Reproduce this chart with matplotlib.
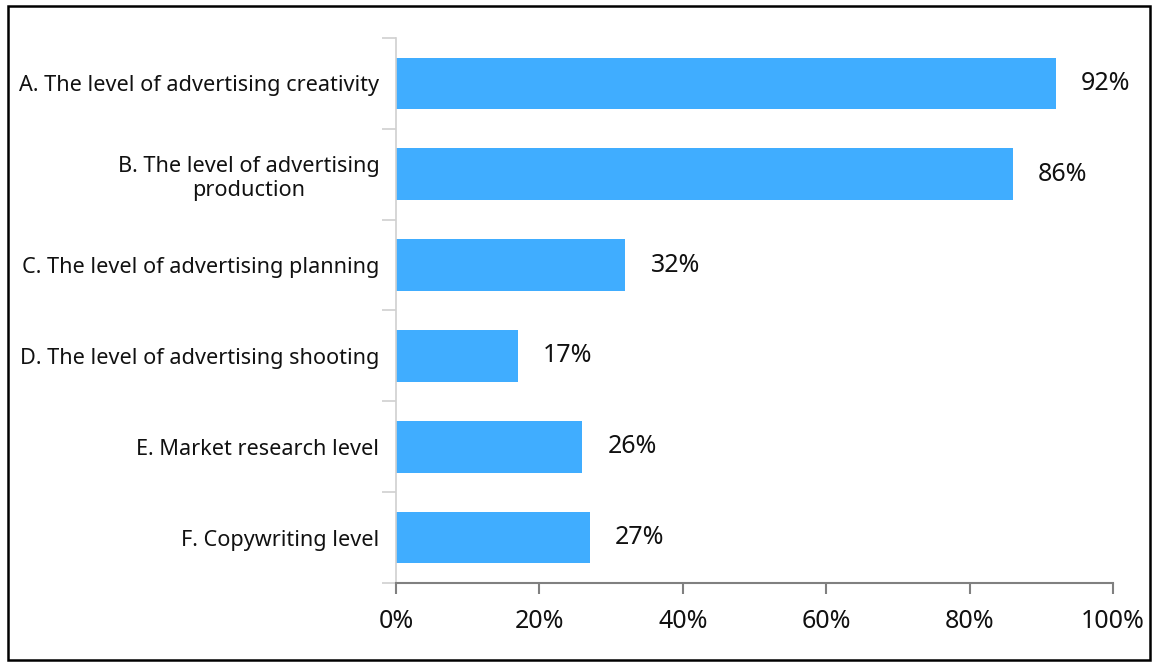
import matplotlib.pyplot as plt
from matplotlib.patches import Rectangle
from matplotlib.ticker import MultipleLocator, PercentFormatter

plt.rcParams['font.family'] = ['Noto Sans', 'DejaVu Sans']

categories = [
    'A. The level of advertising creativity',
    'B. The level of advertising\nproduction',
    'C. The level of advertising planning',
    'D. The level of advertising shooting',
    'E. Market research level',
    'F. Copywriting level',
]
values = [92, 86, 32, 17, 26, 27]

fig = plt.figure(figsize=(11.53, 6.64), dpi=100)
ax = fig.add_axes([0.3435, 0.122, 0.6218, 0.8208])

pos = list(range(len(categories)))
ax.barh(pos, values, height=0.57, color='#40ADFF', zorder=2)
ax.set_ylim(len(categories) - 0.5, -0.5)
ax.set_xlim(0, 100)

for y, v in zip(pos, values):
    ax.annotate(f'{v}%', (v, y), xytext=(18, 0), textcoords='offset points',
                va='center', ha='left', fontsize=18, color='#111111')

# category labels, with separator ticks between the bands
ax.set_yticks(pos)
ax.set_yticklabels(categories, fontsize=15.6, color='#111111', multialignment='center')
ax.set_yticks([p - 0.5 for p in range(len(categories) + 1)], minor=True)
ax.tick_params(axis='y', which='major', length=0, pad=12)
ax.tick_params(axis='y', which='minor', length=10, color='#D0D0D0', width=1.2)

ax.xaxis.set_major_locator(MultipleLocator(20))
ax.xaxis.set_major_formatter(PercentFormatter(decimals=0))
ax.tick_params(axis='x', length=8, color='#808080', width=1.5, labelsize=18,
               labelcolor='#111111', pad=11)

for side in ('top', 'right'):
    ax.spines[side].set_visible(False)
ax.spines['left'].set_color('#D0D0D0')
ax.spines['left'].set_linewidth(1.2)
ax.spines['bottom'].set_color('#808080')
ax.spines['bottom'].set_linewidth(1.5)

# frame around the whole chart
fig.patches.append(Rectangle((8 / 1153, 4 / 664), 1142 / 1153, 654 / 664,
                             transform=fig.transFigure, fill=False,
                             edgecolor='black', linewidth=1.8))

plt.savefig('out.png')
plt.close()
